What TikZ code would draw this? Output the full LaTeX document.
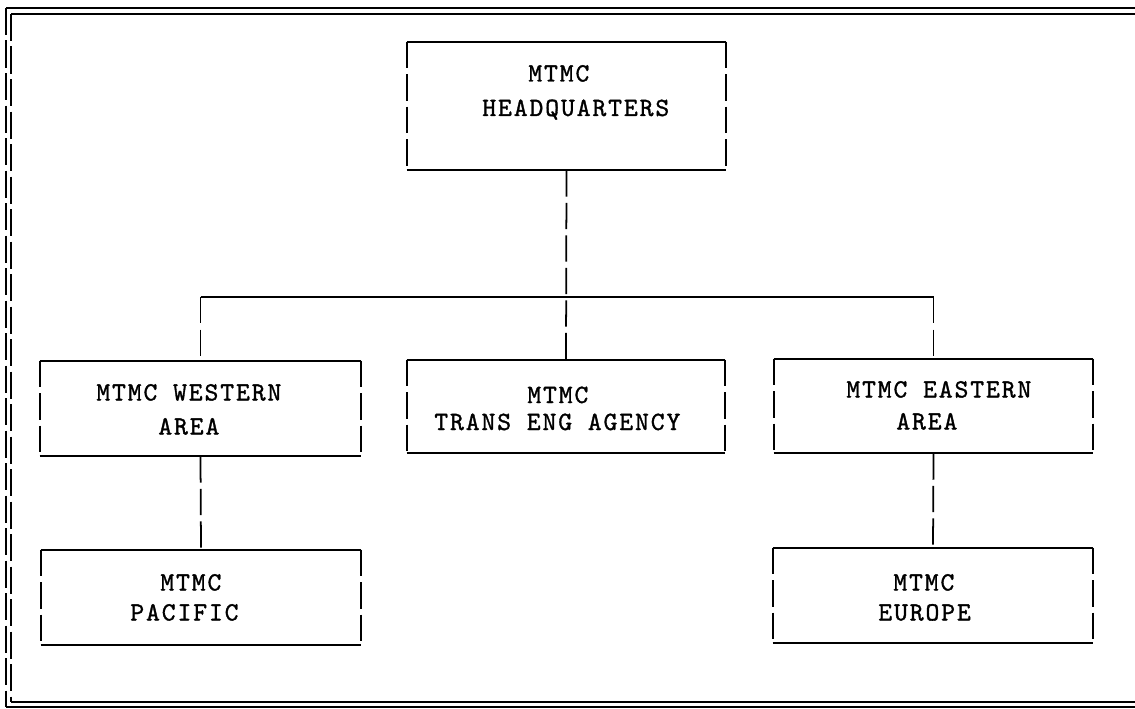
\documentclass[tikz,border=0pt]{standalone}
\usepackage{fontspec}
\newfontfamily\prfont{lmmono10-regular.otf}[LetterSpace=7.2,FakeBold=1.2]
\begin{document}
\begin{tikzpicture}[x=0.02cm,y=-0.02cm,
  orgbox/.style={rectangle,draw=none,inner sep=0pt},
  hline/.style={line width=1pt,black},
  vdash/.style={line width=1pt,black,dash pattern=on 15pt off 3.5pt},
  framel/.style={line width=1.2pt,black},
  framed/.style={line width=1.2pt,black,dash pattern=on 15.5pt off 3pt},
  txt/.style={inner sep=0pt,anchor=base west,font=\prfont\fontsize{15pt}{18pt}\selectfont}]
\useasboundingbox (0,0) rectangle (1135,709);
% outer frame
\coordinate (fo1) at (6,8);
\coordinate (fo2) at (1135,8);
\coordinate (fo3) at (6,707);
\coordinate (fo4) at (1135,707);
\coordinate (fi1) at (11,14);
\coordinate (fi2) at (1135,14);
\coordinate (fi3) at (11,702);
\coordinate (fi4) at (1135,702);
\draw[framel] (fo1) -- (fo2);
\draw[framel] (fi1) -- (fi2);
\draw[framel] (fo3) -- (fo4);
\draw[framel] (fi3) -- (fi4);
\draw[framed] (fo1) -- (fo3);
\draw[framed] (fi1) -- (fi3);
% boxes
\node[orgbox,minimum width=6.38cm,minimum height=2.56cm] (hq)  at (566.5,106) {};
\node[orgbox,minimum width=6.42cm,minimum height=1.90cm] (wa)  at (200.5,408.5) {};
\node[orgbox,minimum width=6.36cm,minimum height=1.86cm] (tea) at (566,406.5) {};
\node[orgbox,minimum width=6.38cm,minimum height=1.88cm] (ea)  at (933.5,406) {};
\node[orgbox,minimum width=6.40cm,minimum height=1.90cm] (pac) at (201,597.5) {};
\node[orgbox,minimum width=6.40cm,minimum height=1.90cm] (eur) at (933,595.5) {};
\foreach \n in {hq,wa,tea,ea,pac,eur}{
  \draw[hline] (\n.north west) -- (\n.north east);
  \draw[hline] (\n.south west) -- (\n.south east);
  \draw[vdash] (\n.north west) -- (\n.south west);
  \draw[vdash] (\n.north east) -- (\n.south east);
}
% texts
\node[txt] (hq1) at (528,81.5) {MTMC};
\node[txt] (hq2) at (482,116) {HEADQUARTERS};
\node[txt] (wa1) at (96,400.5) {MTMC WESTERN};
\node[txt] (wa2) at (158,434.5) {AREA};
\node[txt] (te1) at (527,403) {MTMC};
\node[txt] (te2) at (434,430) {TRANS ENG AGENCY};
\node[txt] (ea1) at (846,397.5) {MTMC EASTERN};
\node[txt] (ea2) at (896,429.5) {AREA};
\node[txt] (pa1) at (160,590.5) {MTMC};
\node[txt] (pa2) at (130,620.5) {PACIFIC};
\node[txt] (eu1) at (893,590.5) {MTMC};
\node[txt] (eu2) at (878,620.5) {EUROPE};
% connectors
\coordinate (j) at (567,297);
\draw[vdash] (hq.south) -- (tea.north);
\draw[hline] (wa.north |- j) -- (ea.north |- j);
\draw[vdash] (wa.north |- j) -- (wa.north);
\draw[vdash] (ea.north |- j) -- (ea.north);
\draw[vdash] (wa.south) -- (pac.north);
\draw[vdash] (ea.south) -- (eur.north);
\end{tikzpicture}
\end{document}
